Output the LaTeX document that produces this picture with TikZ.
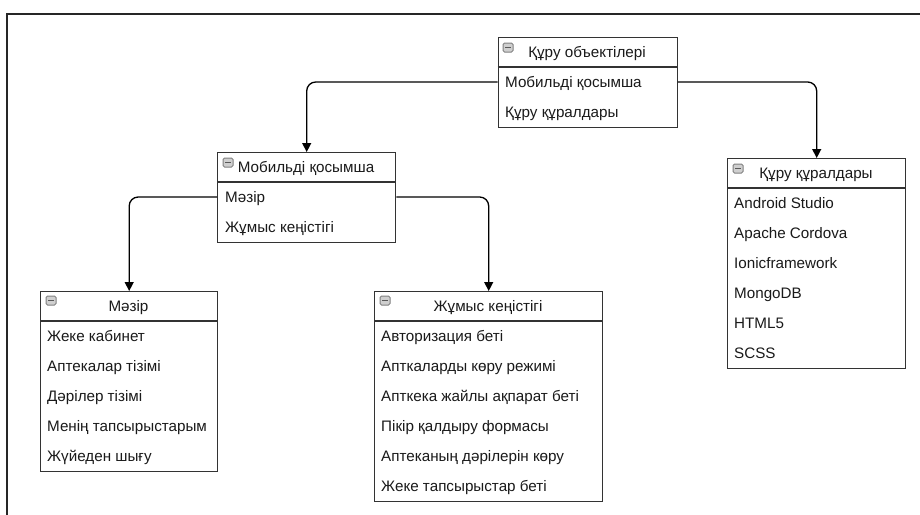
\documentclass[tikz,border=0pt]{standalone}
\usepackage{fontspec}
\setmainfont{Liberation Sans}
\usetikzlibrary{arrows.meta}
\definecolor{edge}{HTML}{333333}
\definecolor{ink}{HTML}{1A1A1A}
\definecolor{iconfill}{HTML}{CFCFCF}
\definecolor{iconline}{HTML}{808080}
\begin{document}
\begin{tikzpicture}[x=1pt,y=-1pt,
  every node/.style={font=\fontsize{15.2}{18}\selectfont, text=ink},
  box/.style={draw=edge, line width=1.4pt, fill=white, anchor=north west, inner sep=0pt, minimum width=#1},
  divider/.style={draw=edge, line width=1.4pt},
  head/.style={anchor=base, inner sep=0pt},
  row/.style={anchor=base west, inner sep=0pt},
  icon/.style={draw=iconline, fill=iconfill, line width=1pt, rounded corners=1.5pt,
    minimum width=10pt, minimum height=9pt, inner sep=0pt,
    path picture={\draw[line width=1.5pt, black!65]
      ([xshift=2.2pt]path picture bounding box.west) -- ([xshift=-2.2pt]path picture bounding box.east);}},
  conn/.style={draw=black, line width=1.3pt, rounded corners=9pt, -{Triangle[length=9pt,width=9pt]}},
  frame/.style={draw=black!85, line width=2pt}
]
\useasboundingbox (0,0) rectangle (920,514);

% outer frame, open to the right and bottom
\draw[frame] (6.5,520) |- (930,13.5);

% ---- Құру объектілері
\node[box=179pt, minimum height=90pt] (tb) at (497.5,37) {};
\draw[divider] (tb.west |- 0,67) -- (tb.east |- 0,67);
\node[icon] (tb-i) at (508,47.5) {};
\node[head] (tb-h) at (587,57.5) {Құру объектілері};
\node[row] (tb-1) at (505,87.5) {Мобильді қосымша};
\node[row] (tb-2) at (505,117.5) {Құру құралдары};

% ---- Мобильді қосымша
\node[box=178pt, minimum height=90pt] (mb) at (217,152) {};
\draw[divider] (mb.west |- 0,182) -- (mb.east |- 0,182);
\node[icon] (mb-i) at (228,162.5) {};
\node[head] (mb-h) at (306,172.5) {Мобильді қосымша};
\node[row] (mb-1) at (225,202.5) {Мәзір};
\node[row] (mb-2) at (225,232.5) {Жұмыс кеңістігі};

% ---- Мәзір
\node[box=177pt, minimum height=180pt] (mz) at (40,291) {};
\draw[divider] (mz.west |- 0,321) -- (mz.east |- 0,321);
\node[icon] (mz-i) at (51,300.5) {};
\node[head] (mz-h) at (128.5,311.5) {Мәзір};
\node[row] (mz-1) at (47,341.5) {Жеке кабинет};
\node[row] (mz-2) at (47,371.5) {Аптекалар тізімі};
\node[row] (mz-3) at (47,401.5) {Дәрілер тізімі};
\node[row] (mz-4) at (47,431.5) {Менің тапсырыстарым};
\node[row] (mz-5) at (47,461.5) {Жүйеден шығу};

% ---- Жұмыс кеңістігі
\node[box=228pt, minimum height=210pt] (jk) at (374,291) {};
\draw[divider] (jk.west |- 0,321) -- (jk.east |- 0,321);
\node[icon] (jk-i) at (385,300.5) {};
\node[head] (jk-h) at (488,311.5) {Жұмыс кеңістігі};
\node[row] (jk-1) at (381,341.5) {Авторизация беті};
\node[row] (jk-2) at (381,371.5) {Апткаларды көру режимі};
\node[row] (jk-3) at (381,401.5) {Апткека жайлы ақпарат беті};
\node[row] (jk-4) at (381,431.5) {Пікір қалдыру формасы};
\node[row] (jk-5) at (381,461.5) {Аптеканың дәрілерін көру};
\node[row] (jk-6) at (381,491.5) {Жеке тапсырыстар беті};

% ---- Құру құралдары
\node[box=178pt, minimum height=210pt] (kk) at (727,158) {};
\draw[divider] (kk.west |- 0,188) -- (kk.east |- 0,188);
\node[icon] (kk-i) at (738,168.5) {};
\node[head] (kk-h) at (816,178.5) {Құру құралдары};
\node[row] (kk-1) at (734,208.5) {Android Studio};
\node[row] (kk-2) at (734,238.5) {Apache Cordova};
\node[row] (kk-3) at (734,268.5) {Ionicframework};
\node[row] (kk-4) at (734,298.5) {MongoDB};
\node[row] (kk-5) at (734,328.5) {HTML5};
\node[row] (kk-6) at (734,358.5) {SCSS};

% ---- connectors
\draw[conn] (tb.west |- 0,82) -| (mb.north);
\draw[conn] (tb.east |- 0,82) -| (kk.north);
\draw[conn] (mb.west |- 0,197) -| (mz.north);
\draw[conn] (mb.east |- 0,197) -| (jk.north);
\end{tikzpicture}
\end{document}
